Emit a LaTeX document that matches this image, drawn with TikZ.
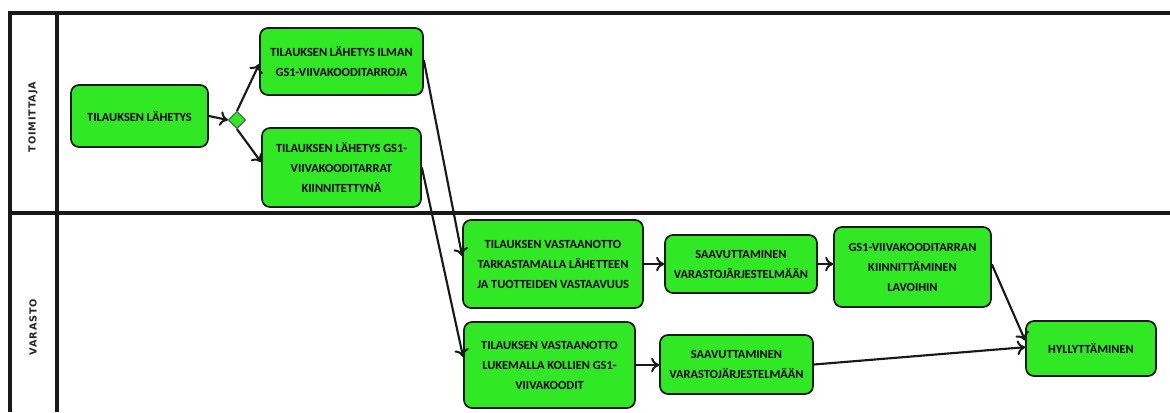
\documentclass[tikz,border=0pt]{standalone}
\usepackage{fontspec}
\setmainfont{Carlito}
\newfontfamily\lanefont{DejaVu Sans}[LetterSpace=8]
\usetikzlibrary{arrows.meta,shapes.geometric}
\definecolor{boxgreen}{RGB}{48,232,36}
\tikzset{
  px/.style={x=0.75pt,y=-0.75pt},
  task/.style={draw=black!90, line width=1.3pt, rounded corners=6pt, fill=boxgreen,
    align=center, inner sep=0pt, font=\fontsize{9.3}{15}\selectfont\bfseries, text=black},
  lane/.style={line width=2.4pt, draw=black!90},
  flow/.style={line width=1.6pt, draw=black!90, -{To[length=6pt,width=11pt,line width=1.5pt]}},
  gate/.style={diamond, draw=black!70, line width=0.6pt, fill=boxgreen, minimum width=13pt, minimum height=13pt, inner sep=0pt},
  lanelabel/.style={rotate=90, font=\lanefont\fontsize{7.3}{8}\selectfont\bfseries, text=black!85}
}
\begin{document}
\begin{tikzpicture}[px]
\useasboundingbox (0,0) rectangle (1170,412);
% swimlane frame
\coordinate (tl) at (10,13);
\coordinate (tr) at (1170,13);
\coordinate (bl) at (10,412);
\coordinate (st) at (57,13);
\coordinate (sb) at (57,412);
\coordinate (ml) at (10,213);
\coordinate (mr) at (1170,213);
\draw[lane] (tr) -- (tl) -- (bl);
\draw[lane] (st) -- (sb);
\draw[lane] (ml) -- (mr);
\node[lanelabel] (l1) at (33,117) {TOIMITTAJA};
\node[lanelabel] (l2) at (33,327) {VARASTO};
% tasks
\node[task, minimum width=102.75pt, minimum height=46.5pt] (A) at (139.5,116) {TILAUKSEN LÄHETYS};
\node[gate] (dia) at (237,120) {};
\node[task, minimum width=122.25pt, minimum height=50.25pt] (B) at (341.5,61.5) {TILAUKSEN LÄHETYS ILMAN\\GS1-VIIVAKOODITARROJA};
\node[task, minimum width=119.25pt, minimum height=59.25pt] (C) at (341.5,167.5) {TILAUKSEN LÄHETYS GS1-\\VIIVAKOODITARRAT\\KIINNITETTYNÄ};
\node[task, minimum width=135pt, minimum height=66pt] (D) at (553,264) {TILAUKSEN VASTAANOTTO\\TARKASTAMALLA LÄHETTEEN\\JA TUOTTEIDEN VASTAAVUUS};
\node[task, minimum width=114pt, minimum height=43.5pt] (E) at (741,264) {SAAVUTTAMINEN\\VARASTOJÄRJESTELMÄÄN};
\node[task, minimum width=117.75pt, minimum height=60pt] (F) at (912.5,267) {GS1-VIIVAKOODITARRAN\\KIINNITTÄMINEN\\LAVOIHIN};
\node[task, minimum width=128.25pt, minimum height=64.5pt] (G) at (549.5,365) {TILAUKSEN VASTAANOTTO\\LUKEMALLA KOLLIEN GS1-\\VIIVAKOODIT};
\node[task, minimum width=114.75pt, minimum height=44.25pt] (H) at (736.5,364.5) {SAAVUTTAMINEN\\VARASTOJÄRJESTELMÄÄN};
\node[task, minimum width=97.5pt, minimum height=41.25pt] (I) at (1091,348.5) {HYLLYTTÄMINEN};
% flows
\draw[flow] (A.east) -- (dia.west);
\draw[flow] (dia.north) -- ([yshift=-2pt]B.west);
\draw[flow] (dia.south) -- ([yshift=4pt]C.west);
\draw[flow] ([yshift=1pt]B.east) -- ([yshift=6pt]D.west);
\draw[flow] (C.east) -- ([yshift=6pt]G.west);
\draw[flow] (D.east) -- (E.west);
\draw[flow] (E.east) -- (E.east -| F.west);
\draw[flow] (G.east) -- (G.east -| H.west);
\draw[flow] ([yshift=2pt]F.east) -- ([yshift=6pt]I.west);
\draw[flow] (H.east) -- ([yshift=1pt]I.west);
\end{tikzpicture}
\end{document}
